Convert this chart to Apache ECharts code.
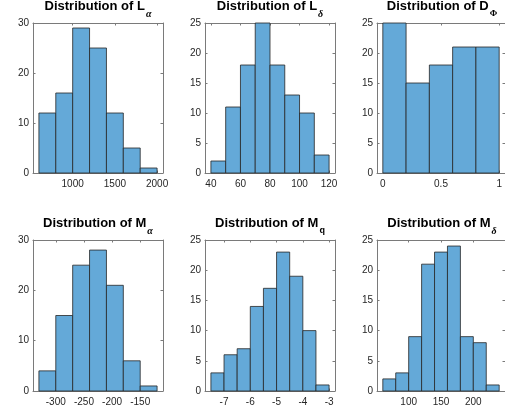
<!DOCTYPE html>
<html>
<head>
<meta charset="utf-8">
<script src="https://cdn.jsdelivr.net/npm/echarts@6/dist/echarts.min.js"></script>
<style>
  html, body { margin: 0; background: #fff; }
  #main { width: 505px; height: 416px; }
</style>
</head>
<body>
<div id="main"></div>
<script>
// histogram bin edges + counts
const lAlphaEdges = [600, 800, 1000, 1200, 1400, 1600, 1800, 2000];
const lAlphaCounts = [12, 16, 29, 25, 12, 5, 1];
const lDeltaEdges = [40, 50, 60, 70, 80, 90, 100, 110, 120];
const lDeltaCounts = [2, 11, 18, 25, 18, 13, 10, 3];
const dPhiEdges = [0, 0.2, 0.4, 0.6, 0.8, 1];
const dPhiCounts = [25, 15, 18, 21, 21];
const mAlphaEdges = [-330, -300, -270, -240, -210, -180, -150, -120];
const mAlphaCounts = [4, 15, 25, 28, 21, 6, 1];
const mQEdges = [-7.5, -7, -6.5, -6, -5.5, -5, -4.5, -4, -3.5, -3];
const mQCounts = [3, 6, 7, 14, 17, 23, 19, 10, 1];
const mDeltaEdges = [60, 80, 100, 120, 140, 160, 180, 200, 220, 240];
const mDeltaCounts = [2, 3, 9, 21, 23, 24, 9, 8, 1];

// tick labels
const lAlphaTicks = [1000, 1500, 2000];
const lDeltaTicks = [40, 60, 80, 100, 120];
const dPhiTicks = [0, 0.5, 1];
const mAlphaTicks = [-300, -250, -200, -150];
const mQTicks = [-7, -6, -5, -4, -3];
const mDeltaTicks = [100, 150, 200];

const panels = [
  { main: 'Distribution of L', sub: 'α', subStyle: 'greek', edges: lAlphaEdges, counts: lAlphaCounts, xlim: [530, 2070], xticks: lAlphaTicks, ymax: 30, yint: 10 },
  { main: 'Distribution of L', sub: 'δ', subStyle: 'greek', edges: lDeltaEdges, counts: lDeltaCounts, xlim: [36, 124], xticks: lDeltaTicks, ymax: 25, yint: 5 },
  { main: 'Distribution of D', sub: 'Φ', subStyle: 'upright', edges: dPhiEdges, counts: dPhiCounts, xlim: [-0.05, 1.05], xticks: dPhiTicks, ymax: 25, yint: 5 },
  { main: 'Distribution of M', sub: 'α', subStyle: 'greek', edges: mAlphaEdges, counts: mAlphaCounts, xlim: [-340.5, -109.5], xticks: mAlphaTicks, ymax: 30, yint: 10 },
  { main: 'Distribution of M', sub: 'q', subStyle: 'latin', edges: mQEdges, counts: mQCounts, xlim: [-7.725, -2.775], xticks: mQTicks, ymax: 25, yint: 5 },
  { main: 'Distribution of M', sub: 'δ', subStyle: 'greek', edges: mDeltaEdges, counts: mDeltaCounts, xlim: [51, 249], xticks: mDeltaTicks, ymax: 25, yint: 5 }
];

const colLeft = [33, 205, 377];
const rowTop = [23, 240];
const boxW = 130;
const rowH = [150, 151];
const titleTop = [0, 217];

const axisColor = '#7a7a7a';
const labelColor = '#262626';
const font = 'Liberation Sans';

const grids = [], xAxes = [], yAxes = [], series = [], titles = [];

panels.forEach((p, i) => {
  const r = Math.floor(i / 3), c = i % 3;
  grids.push({ left: colLeft[c], top: rowTop[r], width: boxW, height: rowH[r] });

  const tickCommon = { show: true, inside: true, length: 2.5, lineStyle: { color: axisColor, width: 1 } };
  const lineCommon = { show: true, onZero: false, lineStyle: { color: axisColor, width: 1 } };

  // bottom + top x axes (top one only closes the box)
  [ 'bottom', 'top' ].forEach(pos => {
    xAxes.push({
      type: 'value', gridIndex: i, position: pos,
      min: p.xlim[0], max: p.xlim[1],
      axisLine: lineCommon,
      axisTick: Object.assign({ customValues: p.xticks }, tickCommon),
      axisLabel: {
        show: pos === 'bottom', customValues: p.xticks, margin: 6,
        color: labelColor, fontFamily: font, fontSize: 10,
        formatter: v => String(v)
      },
      splitLine: { show: false }
    });
  });
  // left + right y axes
  [ 'left', 'right' ].forEach(pos => {
    yAxes.push({
      type: 'value', gridIndex: i, position: pos,
      min: 0, max: p.ymax, interval: p.yint,
      axisLine: lineCommon,
      axisTick: tickCommon,
      axisLabel: {
        show: pos === 'left', margin: 4,
        color: labelColor, fontFamily: font, fontSize: 10
      },
      splitLine: { show: false }
    });
  });

  const data = p.counts.map((v, k) => [p.edges[k], p.edges[k + 1], v]);
  series.push({
    type: 'custom',
    xAxisIndex: 2 * i,
    yAxisIndex: 2 * i,
    data: data,
    encode: { x: [0, 1], y: 2 },
    renderItem: (params, api) => {
      const a = api.coord([api.value(0), api.value(2)]);
      const b = api.coord([api.value(1), 0]);
      return {
        type: 'rect',
        shape: { x: a[0], y: a[1], width: b[0] - a[0], height: b[1] - a[1] },
        style: { fill: '#64a9d8', stroke: '#262626', lineWidth: 0.8 }
      };
    }
  });

  let subRich;
  if (p.subStyle === 'greek') {
    subRich = { fontFamily: 'Liberation Serif', fontStyle: 'italic', fontSize: 10, color: '#000', lineHeight: 10, padding: [9, 0, 0, 1], verticalAlign: 'top' };
  } else if (p.subStyle === 'upright') {
    subRich = { fontFamily: 'Liberation Serif', fontSize: 9, color: '#000', lineHeight: 10, padding: [9, 0, 0, 1], verticalAlign: 'top' };
  } else {
    subRich = { fontFamily: font, fontWeight: 'bold', fontSize: 9, color: '#000', lineHeight: 10, padding: [9, 0, 0, 1], verticalAlign: 'top' };
  }
  titles.push({
    text: '{m|' + p.main + '}{s|' + p.sub + '}',
    left: colLeft[c] + boxW / 2,
    top: titleTop[r],
    textAlign: 'center',
    padding: 0,
    textStyle: {
      rich: {
        m: { fontFamily: font, fontWeight: 'bold', fontSize: 13, color: '#000', lineHeight: 16, verticalAlign: 'top' },
        s: subRich
      }
    }
  });
});

const myChart = echarts.init(document.getElementById('main'), null, { renderer: 'canvas' });
const option = {
  animation: false,
  backgroundColor: '#fff',
  title: titles,
  grid: grids,
  xAxis: xAxes,
  yAxis: yAxes,
  series: series
};
myChart.setOption(option);
</script>
</body>
</html>
